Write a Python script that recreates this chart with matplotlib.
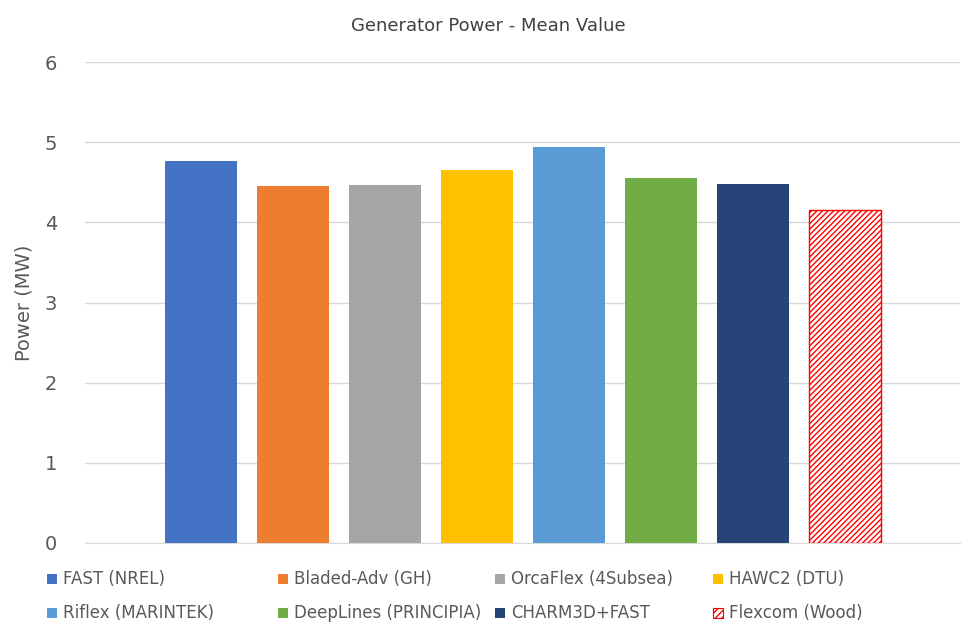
import matplotlib
matplotlib.use("Agg")
import matplotlib.pyplot as plt
from matplotlib.patches import Rectangle

categories = ["FAST (NREL)", "Bladed-Adv (GH)", "OrcaFlex (4Subsea)", "HAWC2 (DTU)",
              "Riflex (MARINTEK)", "DeepLines (PRINCIPIA)", "CHARM3D+FAST", "Flexcom (Wood)"]
values = [4.76, 4.45, 4.47, 4.65, 4.94, 4.55, 4.48, 4.15]
colors = ["#4472C4", "#ED7D31", "#A5A5A5", "#FFC000", "#5B9BD5", "#70AD47", "#264478", "white"]
yticks = [0, 1, 2, 3, 4, 5, 6]

plt.rcParams["hatch.color"] = "#FF0000"
W, H = 977, 638
fig = plt.figure(figsize=(W/100, H/100), dpi=100)
ax = fig.add_axes([85/W, 1-543/H, 875/W, (543-62)/H])
for i, (v, c) in enumerate(zip(values, colors)):
    if i == len(values) - 1:
        ax.bar(i, v, width=0.79, facecolor="white", edgecolor="#FF0000", hatch="//////", linewidth=1, zorder=3)
    else:
        ax.bar(i, v, width=0.79, color=c, zorder=3)
ax.set_xlim(-1.26, 8.25)
ax.set_ylim(0, 6)
ax.set_yticks(yticks)
ax.tick_params(axis="y", length=0, labelsize=14, colors="#595959", pad=20)
ax.set_xticks([])
ax.grid(axis="y", color="#D9D9D9", linewidth=1, zorder=0)
for s in ["top", "right", "left"]:
    ax.spines[s].set_visible(False)
ax.spines["bottom"].set_color("#D9D9D9")
ax.set_ylabel("Power (MW)", fontsize=14, color="#595959", labelpad=8)
fig.text(488/W, 1-26/H, "Generator Power - Mean Value", ha="center", va="center", fontsize=13, color="#404040")

cols = [47, 278, 495, 713]
rows = [579, 613]
for i, (name, c) in enumerate(zip(categories, colors)):
    px, py = cols[i % 4], rows[i // 4]
    if i == 7:
        r = Rectangle((px/W, 1-(py+5)/H), 10/W, 10/H, transform=fig.transFigure,
                      facecolor="white", edgecolor="#FF0000", hatch="/////", linewidth=0.8)
    else:
        r = Rectangle((px/W, 1-(py+5)/H), 10/W, 10/H, transform=fig.transFigure, facecolor=c)
    fig.patches.append(r)
    fig.text((px+16)/W, 1-py/H, name, ha="left", va="center", fontsize=12, color="#595959")

fig.savefig("out.png", dpi=100)
